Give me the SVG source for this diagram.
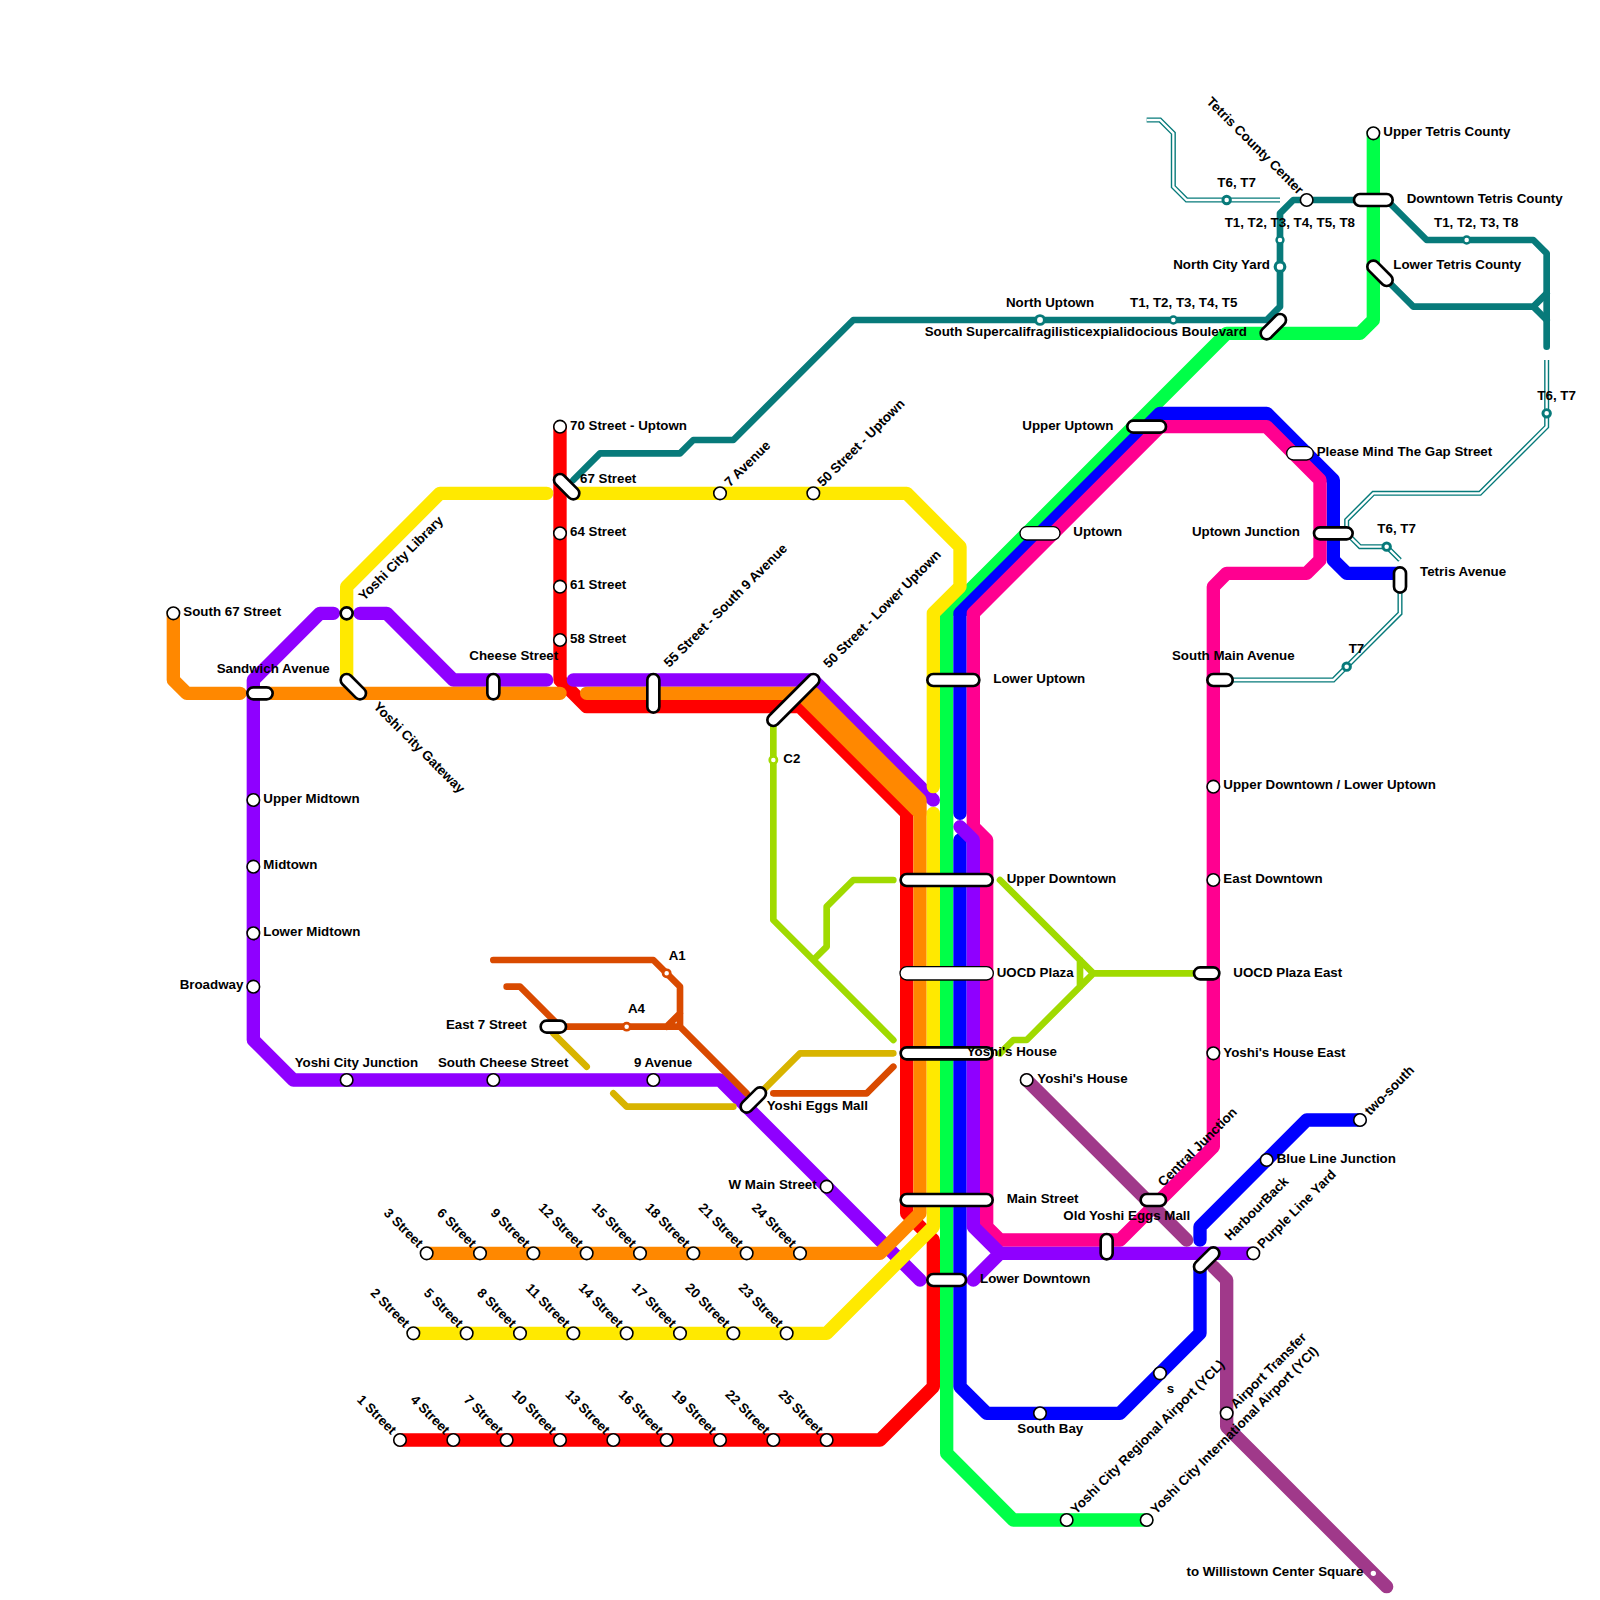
<svg xmlns="http://www.w3.org/2000/svg" width="1600" height="1600" viewBox="0 0 1600 1600">
<style>
.l{fill:none;stroke-linecap:round;stroke-linejoin:round;stroke-width:1}
.n{fill:none;stroke-linecap:round;stroke-linejoin:round;stroke-width:.5}
.red{stroke:#ff0000}.org{stroke:#ff8800}.yel{stroke:#ffe900}.grn{stroke:#00ff48}.blu{stroke:#0000ff}.pur{stroke:#8f00ff}.pnk{stroke:#ff0090}.plm{stroke:#a0398a}.tea{stroke:#077a7a}.lim{stroke:#a0da00}.mus{stroke:#d8b400}.rus{stroke:#d94a00}
.ho{fill:none;stroke:#077a7a;stroke-width:.38;stroke-linejoin:miter}
.hi{fill:none;stroke:#fff;stroke-width:.17;stroke-linejoin:miter}
.c{fill:#fff;stroke:#000;stroke-width:.12}
.ct{fill:#fff;stroke:#000;stroke-width:.2}
.p{fill:#fff;stroke:#000;stroke-width:.2}
.pt{fill:#fff;stroke:#000;stroke-width:.1}
.rt{fill:#fff;stroke:#077a7a;stroke-width:.22}
.rr{fill:#fff;stroke:#d94a00;stroke-width:.2}
.rl{fill:#fff;stroke:#a0da00;stroke-width:.2}
.rp{fill:#fff;stroke:#a0398a;stroke-width:.2}
text{font-family:"Liberation Sans",Arial,sans-serif;font-weight:bold;font-size:1px;fill:#000}
.e{text-anchor:end}
</style>
<defs>
<path id="h1" d="M86 9H87L88 10V14L89 15H96"/>
<path id="h2" d="M116 27V32L111 37H103L101 39V39.5"/>
<path id="h3" d="M101.3 40.3L102 41H104L105 42"/>
<path id="h4" d="M105 44V46L100 51H92"/>
</defs>
<g id="connectors" transform="scale(13.33333)">
<path class="l red" d="M42 32V51L44 53H60L68 61V91L70 93V104L66 108H30"/>
<path class="l pur" d="M25 46H24L19 51V78L22 81H54L69 96"/>
<path class="l pur" d="M27 46H29L34 51H41M43 51H61L70 60"/>
<path class="l org" d="M13 46V51L14 52H18M20 52H42M44 52H60L69 61V91L66 94H32"/>
<path class="l org" d="M60 52H61L69 60V61"/>
<path class="l grn" d="M103 10V24L102 25H92L71 46V109L76 114H86"/>
<path class="l yel" d="M26 51V44L33 37H41M43 37H68L72 41V44L70 46V59M70 61V92L62 100H31"/>
<path class="l blu" d="M105 43H101L100 42V36L95 31H87L72 46V61M72 63V104L74 106H84L90 100V95M90 93V92L98 84H102"/>
<path class="l pnk" d="M91 51V44L92 43H98L99 42V36L95 32H87L73 46V62L74 63V92L75 93H84L91 86V51"/>
<path class="l pur" d="M72 62L73 63V92L75 94H94M75 94L73 96"/>
<path class="l plm" d="M77 81L89 93M91 95L92 96V107L104 119"/>
<path class="n tea" d="M43 36L45 34H51L52 33H55L64 24H95L96 23V16L97 15H102M104 15L107 18H115L116 19V26"/>
<path class="n tea" d="M104 21L106 23H115L116 22M115 23L116 24"/>
<path class="n lim" d="M58 54V69L67 78M67 66H64L62 68V71L61 72"/>
<path class="n lim" d="M75 66L82 73L77 78H76L75 79M82 73H90M81 72V74"/>
<path class="n mus" d="M41.5 77.5L44 80M46 82L47 83H55M57 82L60 79H67"/>
<path class="n rus" d="M37 72H49L51 74V77L56 82M38 74H39L42 77H51M50 77L51 76M58 82H65L67 80"/>
<g id="hollow">
<use href="#h1" class="ho"/><use href="#h1" class="hi"/>
<use href="#h2" class="ho"/><use href="#h2" class="hi"/>
<use href="#h3" class="ho"/><use href="#h3" class="hi"/>
<use href="#h4" class="ho"/><use href="#h4" class="hi"/>
</g>
</g>
<g id="nodes" transform="scale(13.33333)">
<g id="s70"><circle class="c" cx="42" cy="32" r=".47"/><text x="42.75" y="32.25">70 Street - Uptown</text></g>
<g id="s67"><rect class="p" x="41.343" y="36.05" width="2.314" height=".9" rx=".45" transform="rotate(45 42.5 36.5)"/><text x="43.5" y="36.2">67 Street</text></g>
<g id="s64"><circle class="c" cx="42" cy="40" r=".47"/><text x="42.75" y="40.2">64 Street</text></g>
<g id="s61"><circle class="c" cx="42" cy="44" r=".47"/><text x="42.75" y="44.2">61 Street</text></g>
<g id="s58"><circle class="c" cx="42" cy="48" r=".47"/><text x="42.75" y="48.2">58 Street</text></g>
<g id="s-s67"><circle class="c" cx="13" cy="46" r=".47"/><text x="13.75" y="46.2">South 67 Street</text></g>
<g id="sandwich"><rect class="p" x="18.55" y="51.55" width="1.9" height=".9" rx=".45"/><text x="16.25" y="50.5">Sandwich Avenue</text></g>
<g id="library"><circle class="ct" cx="26" cy="46" r=".45"/><text x="27.3" y="45.1" transform="rotate(-45 27.3 45.1)">Yoshi City Library</text></g>
<g id="gateway"><rect class="p" x="25.343" y="51.05" width="2.314" height=".9" rx=".45" transform="rotate(45 26.5 51.5)"/><text x="27.95" y="53.05" transform="rotate(45 27.95 53.05)">Yoshi City Gateway</text></g>
<g id="cheese"><rect class="p" x="36.55" y="50.55" width=".9" height="1.9" rx=".45"/><text x="35.2" y="49.5">Cheese Street</text></g>
<g id="s55"><rect class="p" x="48.55" y="50.55" width=".9" height="2.9" rx=".45"/><text x="50.2" y="50.1" transform="rotate(-45 50.2 50.1)">55 Street - South 9 Avenue</text></g>
<g id="s50l"><rect class="p" x="56.929" y="52.05" width="5.143" height=".9" rx=".45" transform="rotate(-45 59.5 52.5)"/><text x="62.15" y="50.15" transform="rotate(-45 62.15 50.15)">50 Street - Lower Uptown</text></g>
<g id="ave7"><circle class="c" cx="54" cy="37" r=".47"/><text x="54.75" y="36.55" transform="rotate(-45 54.75 36.55)">7 Avenue</text></g>
<g id="s50u"><circle class="c" cx="61" cy="37" r=".47"/><text x="61.7" y="36.55" transform="rotate(-45 61.7 36.55)">50 Street - Uptown</text></g>
<g id="midtown-u"><circle class="c" cx="19" cy="60" r=".47"/><text x="19.75" y="60.2">Upper Midtown</text></g>
<g id="midtown"><circle class="c" cx="19" cy="65" r=".47"/><text x="19.75" y="65.2">Midtown</text></g>
<g id="midtown-l"><circle class="c" cx="19" cy="70" r=".47"/><text x="19.75" y="70.2">Lower Midtown</text></g>
<g id="broadway"><circle class="c" cx="19" cy="74" r=".47"/><text class="e" x="18.25" y="74.2">Broadway</text></g>
<g id="ycj"><circle class="c" cx="26" cy="81" r=".47"/><text x="22.1" y="80">Yoshi City Junction</text></g>
<g id="scs"><circle class="c" cx="37" cy="81" r=".47"/><text x="32.85" y="80">South Cheese Street</text></g>
<g id="ave9"><circle class="c" cx="49" cy="81" r=".47"/><text x="47.55" y="80">9 Avenue</text></g>
<g id="wmain"><circle class="c" cx="62" cy="89" r=".47"/><text class="e" x="61.25" y="89.2">W Main Street</text></g>
<g id="e7"><rect class="p" x="40.55" y="76.55" width="1.9" height=".9" rx=".45"/><text class="e" x="39.5" y="77.2">East 7 Street</text></g>
<g id="a4"><circle class="rr" cx="47" cy="77" r=".27"/><text x="47.1" y="76">A4</text></g>
<g id="a1"><circle class="rr" cx="50" cy="73" r=".27"/><text x="50.15" y="72">A1</text></g>
<g id="c2"><circle class="rl" cx="58" cy="57" r=".27"/><text x="58.75" y="57.25">C2</text></g>
<g id="eggs"><rect class="p" x="55.343" y="82.05" width="2.314" height=".9" rx=".45" transform="rotate(-45 56.5 82.5)"/><text x="57.5" y="83.25">Yoshi Eggs Mall</text></g>
<g id="lup"><rect class="p" x="69.55" y="50.55" width="3.9" height=".9" rx=".45"/><text x="74.5" y="51.2">Lower Uptown</text></g>
<g id="udt"><rect class="p" x="67.55" y="65.55" width="6.9" height=".9" rx=".45"/><text x="75.5" y="66.2">Upper Downtown</text></g>
<g id="uocd"><rect class="pt" x="67.5" y="72.5" width="7" height="1" rx=".5"/><text x="74.75" y="73.25">UOCD Plaza</text></g>
<g id="yh"><rect class="p" x="67.55" y="78.55" width="6.9" height=".9" rx=".45"/><text x="72.5" y="79.2">Yoshi's House</text></g>
<g id="main"><rect class="p" x="67.55" y="89.55" width="6.9" height=".9" rx=".45"/><text x="75.5" y="90.2">Main Street</text></g>
<g id="ldt"><rect class="p" x="69.55" y="95.55" width="2.9" height=".9" rx=".45"/><text x="73.5" y="96.2">Lower Downtown</text></g>
<g id="oldeggs"><rect class="p" x="82.55" y="92.55" width=".9" height="1.9" rx=".45"/><text x="79.75" y="91.5">Old Yoshi Eggs Mall</text></g>
<g id="central"><rect class="p" x="85.55" y="89.55" width="1.9" height=".9" rx=".45"/><text x="87.25" y="89.05" transform="rotate(-45 87.25 89.05)">Central Junction</text></g>
<g id="yh2"><circle class="c" cx="77" cy="81" r=".47"/><text x="77.8" y="81.2">Yoshi's House</text></g>
<g id="udl"><circle class="c" cx="91" cy="59" r=".47"/><text x="91.75" y="59.2">Upper Downtown / Lower Uptown</text></g>
<g id="edt"><circle class="c" cx="91" cy="66" r=".47"/><text x="91.75" y="66.25">East Downtown</text></g>
<g id="yhe"><circle class="c" cx="91" cy="79" r=".47"/><text x="91.75" y="79.25">Yoshi's House East</text></g>
<g id="uocde"><rect class="p" x="89.55" y="72.55" width="1.9" height=".9" rx=".45"/><text x="92.5" y="73.25">UOCD Plaza East</text></g>
<g id="sma"><rect class="p" x="90.55" y="50.55" width="1.9" height=".9" rx=".45"/><text x="87.9" y="49.5">South Main Avenue</text></g>
<g id="t7"><circle class="rt" cx="101" cy="50" r=".28"/><text x="101.15" y="49">T7</text></g>
<g id="ujn"><rect class="p" x="98.55" y="39.55" width="2.9" height=".9" rx=".45"/><text class="e" x="97.5" y="40.2">Uptown Junction</text></g>
<g id="t67b"><circle class="rt" cx="104" cy="41" r=".28"/><text x="103.3" y="40">T6, T7</text></g>
<g id="tet"><rect class="p" x="104.55" y="42.55" width=".9" height="1.9" rx=".45"/><text x="106.5" y="43.2">Tetris Avenue</text></g>
<g id="gap"><rect class="pt" x="96.5" y="33.5" width="2" height="1" rx=".5"/><text x="98.75" y="34.2">Please Mind The Gap Street</text></g>
<g id="uptown"><rect class="pt" x="76.5" y="39.5" width="3" height="1" rx=".5"/><text x="80.5" y="40.2">Uptown</text></g>
<g id="uup"><rect class="p" x="84.55" y="31.55" width="2.9" height=".9" rx=".45"/><text class="e" x="83.5" y="32.25">Upper Uptown</text></g>
<g id="super"><rect class="p" x="94.343" y="24.05" width="2.314" height=".9" rx=".45" transform="rotate(-45 95.5 24.5)"/><text x="69.35" y="25.2">South Supercalifragilisticexpialidocious Boulevard</text></g>
<g id="nup"><circle class="rt" cx="78" cy="24" r=".33"/><text x="75.45" y="23">North Uptown</text></g>
<g id="t15"><circle class="rt" cx="88" cy="24" r=".26" style="stroke-width:.18"/><text x="84.75" y="23">T1, T2, T3, T4, T5</text></g>
<g id="ncy"><circle class="rt" cx="96" cy="20" r=".36" style="stroke-width:.24"/><text class="e" x="95.25" y="20.2">North City Yard</text></g>
<g id="t158"><circle class="rt" cx="96" cy="18" r=".26" style="stroke-width:.18"/><text x="91.85" y="17">T1, T2, T3, T4, T5, T8</text></g>
<g id="t67a"><circle class="rt" cx="92" cy="15" r=".28"/><text x="91.3" y="14">T6, T7</text></g>
<g id="tcc"><circle class="c" cx="98" cy="15" r=".47"/><text class="e" x="97.37" y="14.63" transform="rotate(45 97.37 14.63)">Tetris County Center</text></g>
<g id="utc"><circle class="c" cx="103" cy="10" r=".47"/><text x="103.75" y="10.2">Upper Tetris County</text></g>
<g id="dtc"><rect class="p" x="101.55" y="14.55" width="2.9" height=".9" rx=".45"/><text x="105.5" y="15.2">Downtown Tetris County</text></g>
<g id="ltc"><rect class="p" x="102.343" y="20.05" width="2.314" height=".9" rx=".45" transform="rotate(45 103.5 20.5)"/><text x="104.5" y="20.2">Lower Tetris County</text></g>
<g id="t1238"><circle class="rt" cx="110" cy="18" r=".26" style="stroke-width:.18"/><text x="107.55" y="17">T1, T2, T3, T8</text></g>
<g id="t67c"><circle class="rt" cx="116" cy="31" r=".28"/><text x="115.3" y="30">T6, T7</text></g>
<g id="bay"><circle class="c" cx="78" cy="106" r=".47"/><text x="76.3" y="107.5">South Bay</text></g>
<g id="s"><circle class="c" cx="87" cy="103" r=".47"/><text x="87.5" y="104.45">s</text></g>
<g id="harbour"><rect class="p" x="89.343" y="94.05" width="2.314" height=".9" rx=".45" transform="rotate(-45 90.5 94.5)"/><text x="92.25" y="93.1" transform="rotate(-45 92.25 93.1)">HarbourBack</text></g>
<g id="ply"><circle class="c" cx="94" cy="94" r=".47"/><text x="94.7" y="93.7" transform="rotate(-45 94.7 93.7)">Purple Line Yard</text></g>
<g id="blj"><circle class="c" cx="95" cy="87" r=".47"/><text x="95.75" y="87.2">Blue Line Junction</text></g>
<g id="twos"><circle class="c" cx="102" cy="84" r=".47"/><text x="102.75" y="83.7" transform="rotate(-45 102.75 83.7)">two-south</text></g>
<g id="ycl"><circle class="c" cx="80" cy="114" r=".47"/><text x="80.7" y="113.6" transform="rotate(-45 80.7 113.6)">Yoshi City Regional Airport (YCL)</text></g>
<g id="yci"><circle class="c" cx="86" cy="114" r=".47"/><text x="86.7" y="113.6" transform="rotate(-45 86.7 113.6)">Yoshi City International Airport (YCI)</text></g>
<g id="atr"><circle class="c" cx="92" cy="106" r=".47"/><text x="92.7" y="105.7" transform="rotate(-45 92.7 105.7)">Airport Transfer</text></g>
<g id="wil"><circle class="rp" cx="103" cy="118" r=".3"/><text class="e" x="102.25" y="118.2">to Willistown Center Square</text></g>
<g id="row108">
<g id="st1"><circle class="c" cx="30" cy="108" r=".47"/><text class="e" x="29.32" y="107.63" transform="rotate(45 29.32 107.63)">1 Street</text></g>
<g id="st4"><circle class="c" cx="34" cy="108" r=".47"/><text class="e" x="33.32" y="107.63" transform="rotate(45 33.32 107.63)">4 Street</text></g>
<g id="st7"><circle class="c" cx="38" cy="108" r=".47"/><text class="e" x="37.32" y="107.63" transform="rotate(45 37.32 107.63)">7 Street</text></g>
<g id="st10"><circle class="c" cx="42" cy="108" r=".47"/><text class="e" x="41.32" y="107.63" transform="rotate(45 41.32 107.63)">10 Street</text></g>
<g id="st13"><circle class="c" cx="46" cy="108" r=".47"/><text class="e" x="45.32" y="107.63" transform="rotate(45 45.32 107.63)">13 Street</text></g>
<g id="st16"><circle class="c" cx="50" cy="108" r=".47"/><text class="e" x="49.32" y="107.63" transform="rotate(45 49.32 107.63)">16 Street</text></g>
<g id="st19"><circle class="c" cx="54" cy="108" r=".47"/><text class="e" x="53.32" y="107.63" transform="rotate(45 53.32 107.63)">19 Street</text></g>
<g id="st22"><circle class="c" cx="58" cy="108" r=".47"/><text class="e" x="57.32" y="107.63" transform="rotate(45 57.32 107.63)">22 Street</text></g>
<g id="st25"><circle class="c" cx="62" cy="108" r=".47"/><text class="e" x="61.32" y="107.63" transform="rotate(45 61.32 107.63)">25 Street</text></g>
</g>
<g id="row100">
<g id="st2"><circle class="c" cx="31" cy="100" r=".47"/><text class="e" x="30.32" y="99.63" transform="rotate(45 30.32 99.63)">2 Street</text></g>
<g id="st5"><circle class="c" cx="35" cy="100" r=".47"/><text class="e" x="34.32" y="99.63" transform="rotate(45 34.32 99.63)">5 Street</text></g>
<g id="st8"><circle class="c" cx="39" cy="100" r=".47"/><text class="e" x="38.32" y="99.63" transform="rotate(45 38.32 99.63)">8 Street</text></g>
<g id="st11"><circle class="c" cx="43" cy="100" r=".47"/><text class="e" x="42.32" y="99.63" transform="rotate(45 42.32 99.63)">11 Street</text></g>
<g id="st14"><circle class="c" cx="47" cy="100" r=".47"/><text class="e" x="46.32" y="99.63" transform="rotate(45 46.32 99.63)">14 Street</text></g>
<g id="st17"><circle class="c" cx="51" cy="100" r=".47"/><text class="e" x="50.32" y="99.63" transform="rotate(45 50.32 99.63)">17 Street</text></g>
<g id="st20"><circle class="c" cx="55" cy="100" r=".47"/><text class="e" x="54.32" y="99.63" transform="rotate(45 54.32 99.63)">20 Street</text></g>
<g id="st23"><circle class="c" cx="59" cy="100" r=".47"/><text class="e" x="58.32" y="99.63" transform="rotate(45 58.32 99.63)">23 Street</text></g>
</g>
<g id="row94">
<g id="st3"><circle class="c" cx="32" cy="94" r=".47"/><text class="e" x="31.32" y="93.63" transform="rotate(45 31.32 93.63)">3 Street</text></g>
<g id="st6"><circle class="c" cx="36" cy="94" r=".47"/><text class="e" x="35.32" y="93.63" transform="rotate(45 35.32 93.63)">6 Street</text></g>
<g id="st9"><circle class="c" cx="40" cy="94" r=".47"/><text class="e" x="39.32" y="93.63" transform="rotate(45 39.32 93.63)">9 Street</text></g>
<g id="st12"><circle class="c" cx="44" cy="94" r=".47"/><text class="e" x="43.32" y="93.63" transform="rotate(45 43.32 93.63)">12 Street</text></g>
<g id="st15"><circle class="c" cx="48" cy="94" r=".47"/><text class="e" x="47.32" y="93.63" transform="rotate(45 47.32 93.63)">15 Street</text></g>
<g id="st18"><circle class="c" cx="52" cy="94" r=".47"/><text class="e" x="51.32" y="93.63" transform="rotate(45 51.32 93.63)">18 Street</text></g>
<g id="st21"><circle class="c" cx="56" cy="94" r=".47"/><text class="e" x="55.32" y="93.63" transform="rotate(45 55.32 93.63)">21 Street</text></g>
<g id="st24"><circle class="c" cx="60" cy="94" r=".47"/><text class="e" x="59.32" y="93.63" transform="rotate(45 59.32 93.63)">24 Street</text></g>
</g>
</g>
</svg>
